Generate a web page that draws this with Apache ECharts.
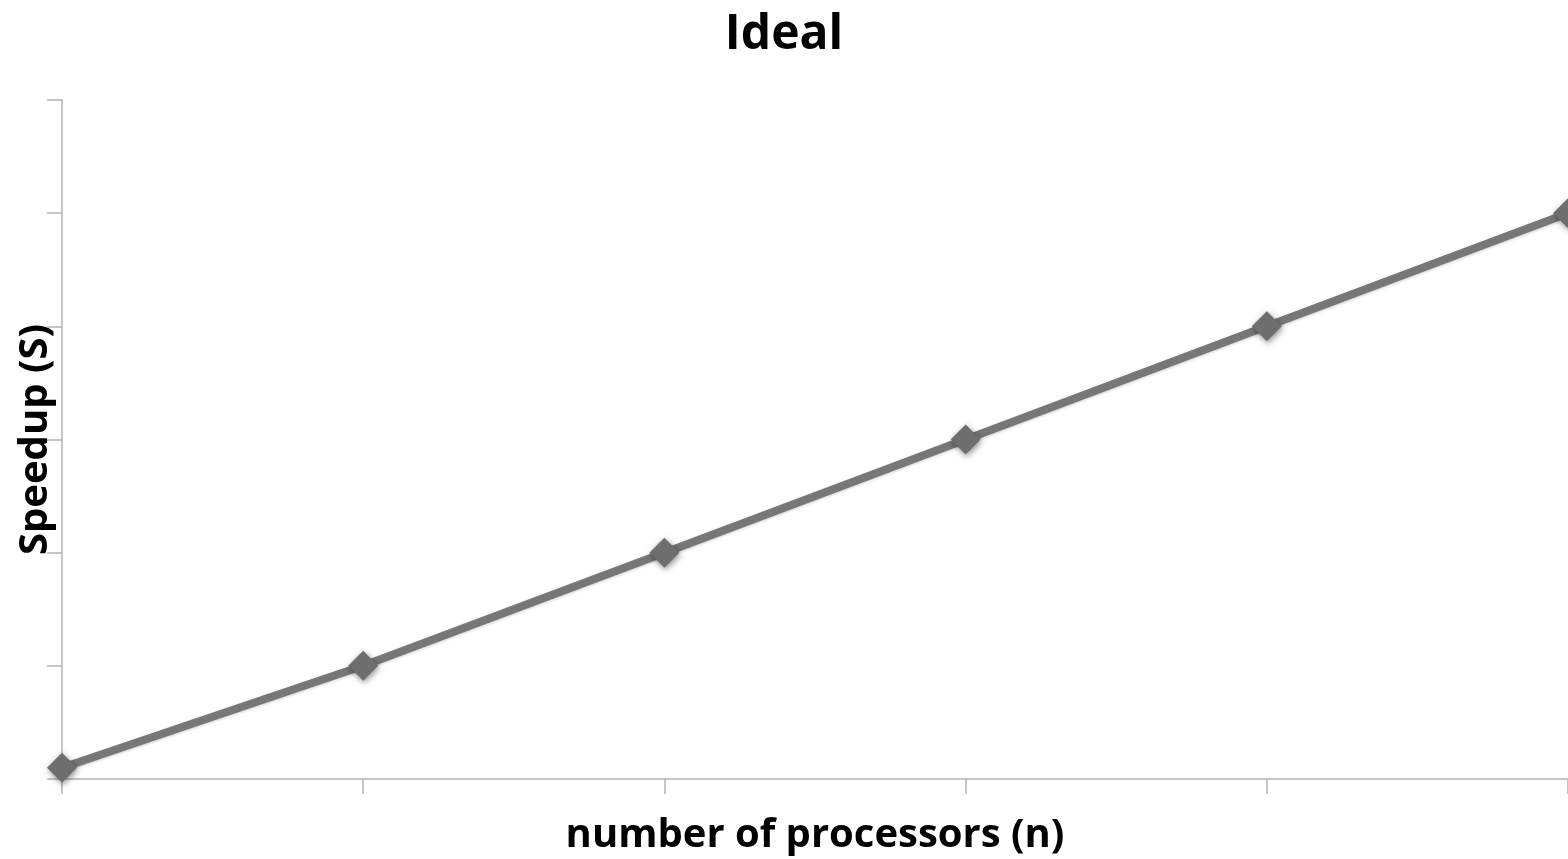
<!DOCTYPE html>
<html><head><meta charset="utf-8">
<script src="https://cdn.jsdelivr.net/npm/echarts@6/dist/echarts.min.js"></script>
<style>html,body{margin:0;padding:0;background:#fff}#c{width:1568px;height:859px}</style>
</head><body><div id="c"></div>
<script>
const categories = ['1', '10', '20', '30', '40', '50'];
const speedup = [1, 10, 20, 30, 40, 50];
const chart = echarts.init(document.getElementById('c'));
const font = '"Open Sans", "Liberation Sans", sans-serif';
chart.setOption({
  animation: false,
  title: {text: 'Ideal', left: 'center', top: 6, textStyle: {fontFamily: font, fontWeight: 'bold', fontSize: 48, color: '#000'}},
  grid: {left: 62, right: 0, top: 100, bottom: 80, outerBoundsMode: 'none', containLabel: false},
  xAxis: {
    type: 'category', data: categories, boundaryGap: false,
    name: 'number of processors (n)', nameLocation: 'middle', nameGap: 37,
    nameTextStyle: {fontFamily: font, fontWeight: 'bold', fontSize: 40, color: '#000'},
    axisLine: {lineStyle: {color: '#b3b3b3', width: 1.5}},
    axisTick: {show: true, alignWithLabel: true, length: 15, lineStyle: {color: '#b3b3b3', width: 1.5}},
    axisLabel: {show: false}, splitLine: {show: false}
  },
  yAxis: {
    type: 'value', min: 0, max: 60, interval: 10,
    name: 'Speedup (S)', nameLocation: 'middle', nameGap: 6,
    nameTextStyle: {fontFamily: font, fontWeight: 'bold', fontSize: 40, color: '#000'},
    axisLine: {show: true, lineStyle: {color: '#b3b3b3', width: 1.5}},
    axisTick: {show: true, length: 15, lineStyle: {color: '#b3b3b3', width: 1.5}},
    axisLabel: {show: false}, splitLine: {show: false}
  },
  series: [{
    type: 'line', data: speedup, symbol: 'diamond', symbolSize: 30,
    lineStyle: {color: '#777', width: 8, shadowBlur: 3, shadowColor: 'rgba(0,0,0,0.2)', shadowOffsetY: 1},
    itemStyle: {color: '#6e6e6e', shadowBlur: 6, shadowColor: 'rgba(0,0,0,0.45)', shadowOffsetX: 1, shadowOffsetY: 2},
    clip: false
  }]
});
</script></body></html>
